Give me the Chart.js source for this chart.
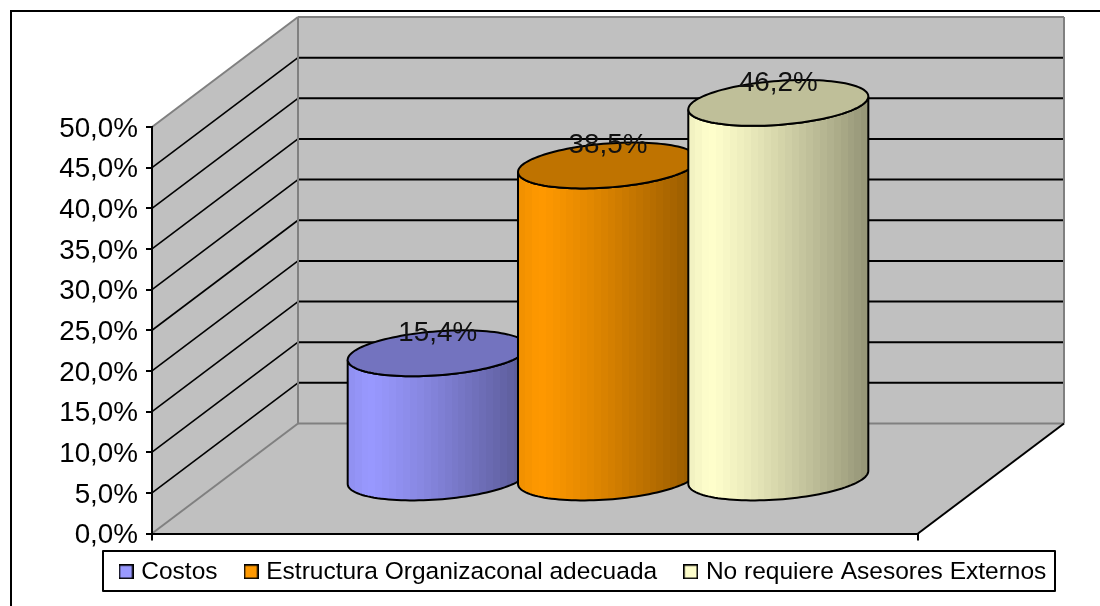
<!DOCTYPE html>
<html>
<head>
<meta charset="utf-8">
<style>
html,body{margin:0;padding:0;background:#fff;}
canvas{display:block;}
</style>
<script src="https://cdn.jsdelivr.net/npm/chart.js@4"></script>
</head>
<body>
<canvas id="chart" width="1100" height="606"></canvas>
<script>
// Series and axis content
const categories = [''];
const seriesNames = ['Costos', 'Estructura Organizaconal adecuada', 'No requiere Asesores Externos'];
const costos = [15.4];
const estructura = [38.5];
const asesores = [46.2];
const seriesColors = ['#9999FF', '#FF9900', '#FFFFCC'];

// 3D box geometry: offset from the front plane to the back wall
const DEPTH_X = 146, DEPTH_Y = -110;
// Columns stand halfway into the box
const MID_X = 73, MID_Y = -55;
const FONT = 'Liberation Sans, Arial, sans-serif';
const TICK_SIZE = 27.8;
const LEGEND_SIZE = 24.5;

const pct = v => v.toFixed(1).replace('.', ',') + '%';

function shade(hex, k) {
  const n = parseInt(hex.slice(1), 16);
  const c = [n >> 16 & 255, n >> 8 & 255, n & 255].map(v => Math.round(v * k));
  return `rgb(${c[0]},${c[1]},${c[2]})`;
}

// Legend swatches: fixed-size bordered squares
const swatches = seriesColors.map(col => {
  const c = document.createElement('canvas');
  c.width = c.height = 15;
  const g = c.getContext('2d');
  g.fillStyle = col;
  g.fillRect(0, 0, 15, 15);
  g.strokeStyle = '#000';
  g.lineWidth = 1.6;
  g.strokeRect(0.8, 0.8, 13.4, 13.4);
  return c;
});

function poly(ctx, pts, fill) {
  ctx.beginPath();
  pts.forEach((p, i) => i ? ctx.lineTo(p[0], p[1]) : ctx.moveTo(p[0], p[1]));
  ctx.closePath();
  if (fill) { ctx.fillStyle = fill; ctx.fill(); }
}
function seg(ctx, a, b, color, w) {
  ctx.beginPath();
  ctx.moveTo(a[0], a[1]);
  ctx.lineTo(b[0], b[1]);
  ctx.strokeStyle = color;
  ctx.lineWidth = w;
  ctx.stroke();
}

// Banded horizontal shading across a column's curved side
function sideGradient(ctx, left, width, color) {
  const g = ctx.createLinearGradient(left, 0, left + width, 0);
  const bands = 26;
  for (let i = 0; i < bands; i++) {
    const p = (i + 0.5) / bands;
    const k = p < 0.12 ? 0.94 + 0.06 * p / 0.12 : 1 - 0.42 * Math.pow((p - 0.12) / 0.88, 1.15);
    g.addColorStop(i / bands, shade(color, k));
    g.addColorStop((i + 1) / bands, shade(color, k));
  }
  return g;
}

// One point on a tilted column rim
function rim(cx, cy, rx, t) {
  const TILT = 6.5, RY = 22;
  return [cx + rx * Math.cos(t), cy - TILT * Math.cos(t) + RY * Math.sin(t)];
}

function drawCylinder(ctx, el, color) {
  const rx = el.width * 1.057 / 2;
  const cx = el.x + MID_X;
  const top = el.y + MID_Y;
  const bot = el.base + MID_Y;
  const N = 60;
  const body = [];
  for (let i = 0; i <= N; i++) body.push(rim(cx, top, rx, Math.PI * (1 - i / N)));
  for (let i = 0; i <= N; i++) body.push(rim(cx, bot, rx, Math.PI * i / N));
  poly(ctx, body, sideGradient(ctx, cx - rx, rx * 2, color));
  ctx.strokeStyle = '#000';
  ctx.lineWidth = 2;
  ctx.stroke();
  const cap = [];
  for (let i = 0; i < N * 2; i++) cap.push(rim(cx, top, rx, Math.PI * i / N));
  poly(ctx, cap, shade(color, 0.75));
  ctx.stroke();
}

const box3d = {
  id: 'box3d',
  beforeLayout(chart) {
    // The legend is placed by hand, so it reserves a fixed strip only
    const lg = chart.legend;
    if (lg && !lg._fixedFit) {
      const fit = lg.fit;
      lg.fit = function () { fit.call(this); this.height = 20; };
      lg._fixedFit = true;
    }
  },
  afterLayout(chart) {
    const lg = chart.legend;
    lg.left = 92.5; lg.right = 1100; lg.top = 529; lg.bottom = 591;
    lg.adjustHitBoxes();
  },
  beforeDraw(chart) {
    const ctx = chart.ctx;
    const x = chart.scales.x, y = chart.scales.y;
    const L = x.left, R = x.right;
    const T = y.getPixelForValue(50), B = y.getPixelForValue(0);
    const dx = DEPTH_X, dy = DEPTH_Y;
    ctx.save();
    // Outer frame: top and left edges
    seg(ctx, [10, 11], [1100, 11], '#000', 2);
    seg(ctx, [11, 10], [11, 606], '#000', 2);
    // Walls and floor
    poly(ctx, [[L + dx, T + dy], [R + dx, T + dy], [R + dx, B + dy], [L + dx, B + dy]], '#C0C0C0');
    poly(ctx, [[L, T], [L + dx, T + dy], [L + dx, B + dy], [L, B]], '#C0C0C0');
    poly(ctx, [[L, B], [L + dx, B + dy], [R + dx, B + dy], [R, B]], '#C0C0C0');
    // Gridlines run along the side wall and across the back wall
    y.ticks.forEach(t => {
      if (t.value <= 0 || t.value >= 50) return;
      const p = y.getPixelForValue(t.value);
      ctx.lineJoin = 'round';
      seg(ctx, [L, p], [L + dx, p + dy], '#000', 1.6);
      seg(ctx, [L + dx, p + dy], [R + dx, p + dy], '#000', 2);
    });
    // Box edges
    const edge = '#808080';
    seg(ctx, [L, T], [L + dx, T + dy], edge, 2);
    seg(ctx, [L + dx, T + dy], [R + dx, T + dy], edge, 2);
    seg(ctx, [R + dx, T + dy], [R + dx, B + dy], edge, 2);
    seg(ctx, [L + dx, T + dy], [L + dx, B + dy], edge, 2);
    seg(ctx, [L + dx, B + dy], [R + dx, B + dy], edge, 2);
    seg(ctx, [L, B], [L + dx, B + dy], edge, 2);
    seg(ctx, [R, B], [R + dx, B + dy], '#000', 2);
    // Legend frame
    ctx.strokeStyle = '#000';
    ctx.lineWidth = 2;
    ctx.strokeRect(103, 551, 952, 40);
    ctx.restore();
  },
  beforeDatasetsDraw(chart) {
    const ctx = chart.ctx;
    ctx.save();
    chart.data.datasets.forEach((ds, i) => {
      drawCylinder(ctx, chart.getDatasetMeta(i).data[0], ds.backgroundColor);
    });
    // Value labels sit across the back edge of each cap
    ctx.fillStyle = '#111';
    ctx.font = `${TICK_SIZE}px ${FONT}`;
    ctx.textAlign = 'center';
    ctx.textBaseline = 'middle';
    chart.data.datasets.forEach((ds, i) => {
      const el = chart.getDatasetMeta(i).data[0];
      ctx.fillText(pct(ds.data[0]), el.x + MID_X, el.y + MID_Y - 20);
    });
    ctx.restore();
    return false;
  }
};

new Chart(document.getElementById('chart'), {
  type: 'bar',
  data: {
    labels: categories,
    datasets: [
      { label: seriesNames[0], data: costos, backgroundColor: seriesColors[0] },
      { label: seriesNames[1], data: estructura, backgroundColor: seriesColors[1] },
      { label: seriesNames[2], data: asesores, backgroundColor: seriesColors[2] }
    ]
  },
  options: {
    responsive: false,
    animation: false,
    events: [],
    layout: { padding: { left: 0, top: 127, right: 182, bottom: 0 } },
    categoryPercentage: 0.667,
    barPercentage: 1,
    scales: {
      x: {
        afterFit: s => { s.height = 52.5; },
        ticks: { display: false },
        grid: { drawOnChartArea: false, drawTicks: true, tickLength: 7, color: '#000', lineWidth: 2 },
        border: { display: true, color: '#000', width: 2 }
      },
      y: {
        min: 0,
        max: 50,
        afterFit: s => { s.width = 152; },
        ticks: {
          stepSize: 5,
          padding: 8,
          labelOffset: 2,
          color: '#000',
          font: { family: FONT, size: TICK_SIZE },
          callback: v => pct(v)
        },
        grid: { drawOnChartArea: false, drawTicks: true, tickLength: 6, color: '#000', lineWidth: 2 },
        border: { display: true, color: '#000', width: 2 }
      }
    },
    plugins: {
      tooltip: { enabled: false },
      title: { display: false },
      legend: {
        position: 'bottom',
        align: 'start',
        labels: {
          usePointStyle: true,
          boxWidth: 6,
          boxHeight: 15,
          padding: 30.5,
          color: '#000',
          font: { family: FONT, size: LEGEND_SIZE },
          generateLabels: chart =>
            Chart.defaults.plugins.legend.labels.generateLabels(chart)
              .map((item, i) => ({ ...item, pointStyle: swatches[i] }))
        }
      }
    }
  },
  plugins: [box3d]
});
</script>
</body>
</html>
